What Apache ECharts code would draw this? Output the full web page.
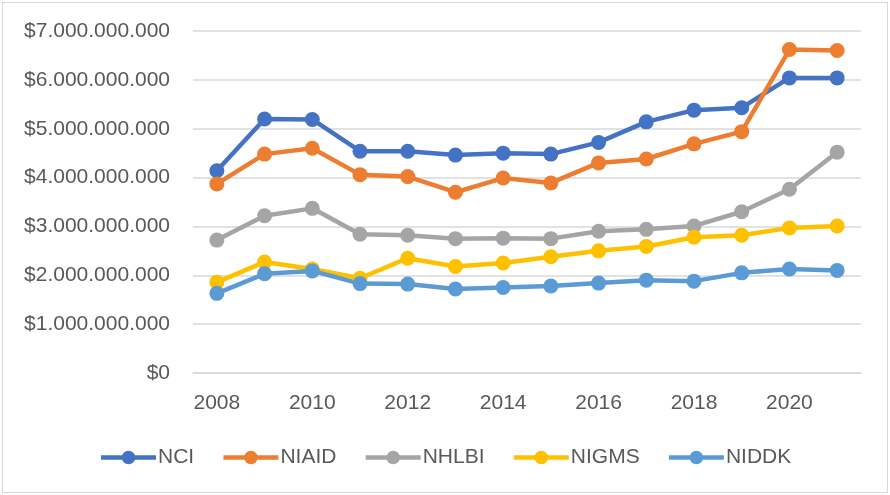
<!DOCTYPE html>
<html><head><meta charset="utf-8">
<script src="https://cdn.jsdelivr.net/npm/echarts@6/dist/echarts.min.js"></script>
<style>
html,body{margin:0;padding:0;background:#fff;}
#frame{position:absolute;left:2px;top:2px;width:884px;height:489px;border:1px solid #d9d9d9;}
#c{position:absolute;left:0;top:0;width:890px;height:495px;}
</style></head>
<body><div id="frame"></div><div id="c"></div>
<script>
const years = ['2008','2009','2010','2011','2012','2013','2014','2015','2016','2017','2018','2019','2020','2021'];
const NCI   = [4.14,5.20,5.19,4.54,4.54,4.46,4.50,4.48,4.72,5.14,5.38,5.43,6.04,6.04];
const NIAID = [3.87,4.48,4.60,4.06,4.02,3.70,3.99,3.89,4.30,4.38,4.69,4.94,6.62,6.60];
const NHLBI = [2.72,3.22,3.37,2.84,2.82,2.75,2.76,2.75,2.90,2.94,3.01,3.30,3.76,4.52];
const NIGMS = [1.86,2.27,2.13,1.94,2.35,2.18,2.25,2.38,2.50,2.59,2.78,2.82,2.97,3.01];
const NIDDK = [1.63,2.03,2.09,1.83,1.82,1.72,1.75,1.78,1.84,1.90,1.88,2.05,2.13,2.10];
const seriesNames = ['NCI','NIAID','NHLBI','NIGMS','NIDDK'];
const seriesData = [NCI,NIAID,NHLBI,NIGMS,NIDDK];
const colors = ['#4472C4','#ED7D31','#A5A5A5','#FFC000','#5B9BD5'];

function fmt(v){
  const s = Math.round(v).toString();
  return '$' + s.replace(/\B(?=(\d{3})+(?!\d))/g,'.');
}
const chart = echarts.init(document.getElementById('c'));
chart.setOption({
  animation:false,
  color:colors,
  textStyle:{fontFamily:'Liberation Sans'},
  grid:{left:193,right:29,top:31,bottom:122},
  legend:{
    bottom:22,left:'center',itemWidth:55,itemHeight:17,itemGap:27,
    lineStyle:{width:4.5},
    textStyle:{fontSize:21,color:'#595959',fontFamily:'Liberation Sans',padding:[0,0,0,-3]},
    data:seriesNames.map((n,i)=>({name:n,lineStyle:{width:4.5,color:colors[i]},itemStyle:{color:colors[i]}}))
  },
  xAxis:{
    type:'category',data:years,boundaryGap:true,
    axisLine:{show:true,lineStyle:{color:'#d9d9d9',width:1.5}},
    axisTick:{show:false},
    axisLabel:{interval:1,fontSize:21,color:'#595959',margin:20}
  },
  yAxis:{
    type:'value',min:0,max:7000000000,interval:1000000000,
    axisLine:{show:false},axisTick:{show:false},
    splitLine:{lineStyle:{color:'#d9d9d9',width:1.5}},
    axisLabel:{fontSize:21,color:'#595959',margin:23,formatter:fmt}
  },
  series:seriesNames.map((n,i)=>({
    name:n,type:'line',
    data:seriesData[i].map(v=>v*1e9),
    symbol:'circle',symbolSize:15,
    lineStyle:{width:4.5,color:colors[i]},
    itemStyle:{color:colors[i]}
  }))
});
</script></body></html>
